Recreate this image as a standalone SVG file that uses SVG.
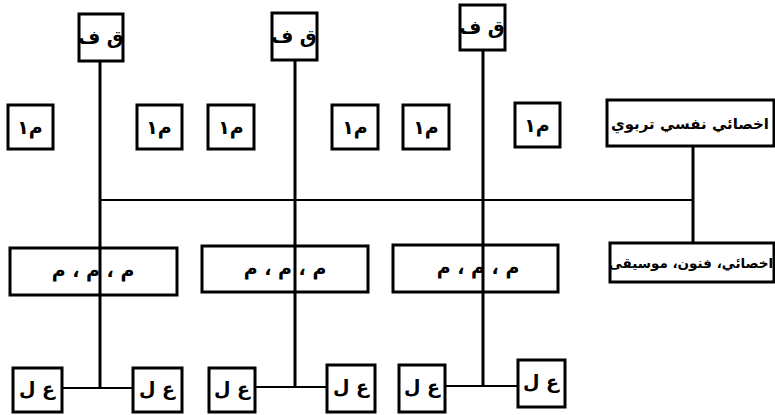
<svg xmlns="http://www.w3.org/2000/svg" width="775" height="415" viewBox="0 0 775 415">
<style>
.box{fill:none;stroke:#000;stroke-width:3}
.ln{stroke:#000;stroke-width:3;fill:none}
.lh{stroke:#000;stroke-width:2.2;fill:none}
.t{font-family:"DejaVu Sans",sans-serif;font-weight:bold;fill:#000;text-anchor:middle}
.s{font-size:19px}
.q{font-size:19px}
.m{font-size:15px}
.n{font-size:13.5px}
</style>
<rect width="775" height="415" fill="#fff"/>
<g id="connectors">
<line class="ln" x1="100" y1="61" x2="100" y2="388"/>
<line class="ln" x1="295" y1="60" x2="295" y2="387"/>
<line class="ln" x1="483" y1="50" x2="483" y2="386"/>
<line class="lh" x1="100" y1="200" x2="693" y2="200"/>
<line class="ln" x1="693" y1="146" x2="693" y2="243"/>
<line class="lh" x1="62" y1="388" x2="133" y2="388"/>
<line class="lh" x1="255" y1="387" x2="327" y2="387"/>
<line class="lh" x1="445" y1="386" x2="518" y2="386"/>
</g>
<g id="qf1"><rect class="box" x="79" y="14" width="44" height="47"/><text class="t q" x="101" y="44" direction="rtl">ق ف</text></g>
<g id="qf2"><rect class="box" x="272" y="13" width="45" height="47"/><text class="t q" x="294" y="43" direction="rtl">ق ف</text></g>
<g id="qf3"><rect class="box" x="460" y="5" width="45" height="45"/><text class="t q" x="482" y="34" direction="rtl">ق ف</text></g>
<g id="m1a"><rect class="box" x="8" y="105" width="45" height="44"/><text class="t q" x="30" y="134" direction="rtl">م١</text></g>
<g id="m1b"><rect class="box" x="137" y="105" width="45" height="44"/><text class="t q" x="159" y="134" direction="rtl">م١</text></g>
<g id="m1c"><rect class="box" x="208" y="105" width="46" height="44"/><text class="t q" x="231" y="134" direction="rtl">م١</text></g>
<g id="m1d"><rect class="box" x="332" y="105" width="46" height="44"/><text class="t q" x="355" y="134" direction="rtl">م١</text></g>
<g id="m1e"><rect class="box" x="403" y="105" width="46" height="44"/><text class="t q" x="426" y="134" direction="rtl">م١</text></g>
<g id="m1f"><rect class="box" x="515" y="103" width="45" height="44"/><text class="t q" x="537" y="132" direction="rtl">م١</text></g>
<g id="psych"><rect class="box" x="607" y="100" width="167" height="46"/><text class="t m" x="690" y="129" direction="rtl" textLength="158" lengthAdjust="spacingAndGlyphs">اخصائي نفسي تربوي</text></g>
<g id="arts"><rect class="box" x="610" y="243" width="164" height="39"/><text class="t n" x="691" y="268" direction="rtl">اخصائي، فنون، موسيقى</text></g>
<g id="mmm1"><rect class="box" x="10" y="248" width="167" height="47"/><text class="t s" x="93" y="277" direction="rtl">م ، م ، م</text></g>
<g id="mmm2"><rect class="box" x="202" y="246" width="166" height="46"/><text class="t s" x="285" y="275" direction="rtl">م ، م ، م</text></g>
<g id="mmm3"><rect class="box" x="393" y="245" width="165" height="47"/><text class="t s" x="478" y="274" direction="rtl">م ، م ، م</text></g>
<g id="al1"><rect class="box" x="13" y="368" width="49" height="44"/><text class="t q" x="37" y="395" direction="rtl">ع ل</text></g>
<g id="al2"><rect class="box" x="133" y="368" width="49" height="44"/><text class="t q" x="157" y="395" direction="rtl">ع ل</text></g>
<g id="al3"><rect class="box" x="209" y="368" width="46" height="44"/><text class="t q" x="232" y="395" direction="rtl">ع ل</text></g>
<g id="al4"><rect class="box" x="327" y="365" width="48" height="47"/><text class="t q" x="351" y="393" direction="rtl">ع ل</text></g>
<g id="al5"><rect class="box" x="399" y="365" width="46" height="47"/><text class="t q" x="422" y="393" direction="rtl">ع ل</text></g>
<g id="al6"><rect class="box" x="518" y="360" width="47" height="47"/><text class="t q" x="541" y="388" direction="rtl">ع ل</text></g>
</svg>
